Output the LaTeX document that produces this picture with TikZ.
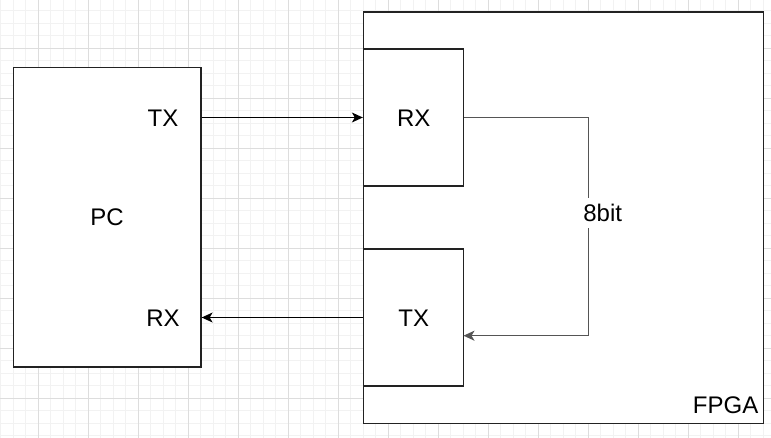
\documentclass[tikz,border=0pt]{standalone}
\usepackage{fontspec}
\setmainfont{Liberation Sans}
\usetikzlibrary{arrows.meta}
\definecolor{gridminor}{HTML}{F2F2F2}
\definecolor{gridmajor}{HTML}{DDDDDD}
\definecolor{edge}{HTML}{222222}
\definecolor{wire}{HTML}{555555}
\begin{document}
\begin{tikzpicture}[x=1pt,y=-1pt,
  box/.style={draw=edge,line width=1.3pt,fill=white,rectangle,inner sep=0pt,anchor=center},
  lbl/.style={font=\fontsize{24}{28}\selectfont,inner sep=0pt,text=black},
  conn/.style={draw=black,line width=1.2pt,-{Stealth[length=11pt,width=10pt,inset=3pt]}},
  wireconn/.style={draw=wire,line width=1.2pt,-{Stealth[length=11pt,width=10pt,inset=3pt]}}]
\useasboundingbox (0,0) rectangle (771,438);
\fill[white] (0,0) rectangle (771,438);
% grid
\foreach \k in {0,...,61} {\draw[gridminor,line width=0.9pt] ({0.8+12.5*\k},0) -- ({0.8+12.5*\k},438);}
\foreach \k in {0,...,35} {\draw[gridminor,line width=0.9pt] (0,{10.8+12.5*\k}) -- (771,{10.8+12.5*\k});}
\foreach \k in {0,...,15} {\draw[gridmajor,line width=0.9pt] ({38.3+50*\k},0) -- ({38.3+50*\k},438);}
\foreach \k in {0,...,8} {\draw[gridmajor,line width=0.9pt] (0,{48.3+50*\k}) -- (771,{48.3+50*\k});}
% blocks
\node[box,minimum width=187.5pt,minimum height=299.5pt] (pc) at (107.25,217.25) {};
\node[box,minimum width=400pt,minimum height=411.5pt] (fpga) at (563.5,217.75) {};
\node[box,minimum width=100pt,minimum height=137pt] (rx) at (413.5,117.5) {};
\node[box,minimum width=100pt,minimum height=137pt] (tx) at (413.5,317.5) {};
% labels
\node[lbl] (pclbl) at (107,217.5) {PC};
\node[lbl] (pctx) at (163,118) {TX};
\node[lbl] (pcrx) at (163,318) {RX};
\node[lbl] (rxlbl) at (413.7,118) {RX};
\node[lbl] (txlbl) at (413.7,318) {TX};
\node[lbl,anchor=east] (fpgalbl) at (758.5,405) {FPGA};
% connectors
\draw[conn] (pc.east |- rx.west) -- (rx.west);
\draw[conn] (tx.west) -- (pc.east |- tx.west);
\coordinate (bend) at (588.7,226);
\coordinate (txin) at (463.5,335.7);
\draw[wireconn] (rx.east) -| (bend) |- (txin);
\node[lbl,fill=white,inner xsep=0pt,inner ysep=6pt] (bits) at (602.7,213) {8bit};
\end{tikzpicture}
\end{document}
